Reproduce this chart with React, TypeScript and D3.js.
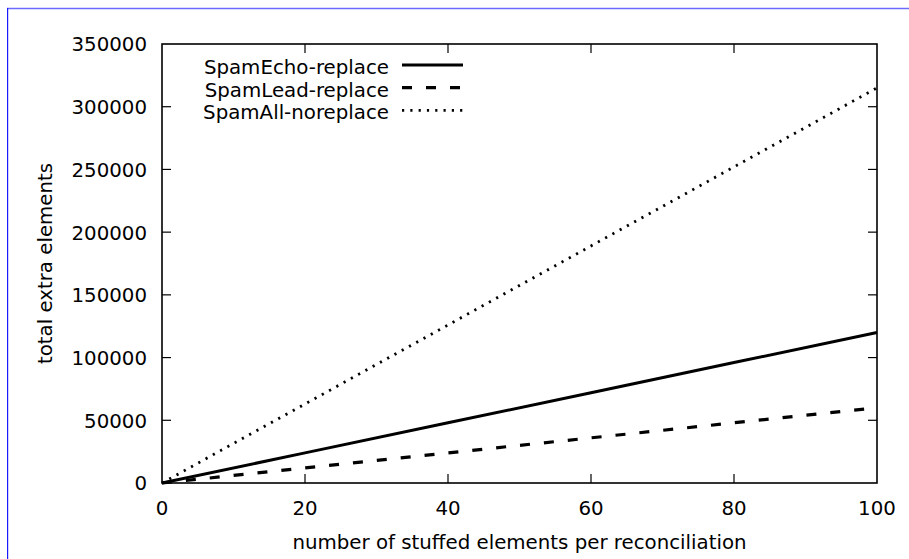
import React from "react";
import * as d3 from "d3";

// Number of stuffed elements per reconciliation
const stuffed = [0, 20, 40, 60, 80, 100];

// Total extra elements per strategy
const spamEchoReplace = [0, 24000, 48000, 72000, 96000, 120000];
const spamLeadReplace = [0, 12000, 24000, 36000, 48000, 60000];
const spamAllNoreplace = [0, 63000, 126000, 189000, 252000, 315000];

const seriesNames = ["SpamEcho-replace", "SpamLead-replace", "SpamAll-noreplace"];

const xTicks = [0, 20, 40, 60, 80, 100];
const yTicks = [0, 50000, 100000, 150000, 200000, 250000, 300000, 350000];

const xLabel = "number of stuffed elements per reconciliation";
const yLabel = "total extra elements";

const W = 909;
const H = 559;
const left = 162;
const right = 877;
const top = 44;
const bottom = 483;
const FONT = "'DejaVu Sans', sans-serif";
const FS = 19.8;
const TICK = 9;

const styles = [
  { width: 3, dash: undefined as string | undefined, cap: "butt" },
  { width: 3.2, dash: "10,14", cap: "butt" },
  { width: 2.8, dash: "2.2,6.1", cap: "butt" },
];

export default function App() {
  const x = d3.scaleLinear().domain([0, 100]).range([left, right]);
  const y = d3.scaleLinear().domain([0, 350000]).range([bottom, top]);

  const series = [spamEchoReplace, spamLeadReplace, spamAllNoreplace];
  const line = d3
    .line<[number, number]>()
    .x((d) => x(d[0]))
    .y((d) => y(d[1]));

  const legendRowY = [67, 89.7, 112.4];
  const legendTextX = 389;
  const legendLineX0 = 402;
  const legendLineX1 = 463;

  return (
    <svg
      width={W}
      height={H}
      style={{ position: "absolute", left: 0, top: 0, background: "#fff" }}
      fontFamily={FONT}
    >
      <rect x={0} y={0} width={W} height={H} fill="#fff" />
      {/* page frame */}
      <line x1={7} y1={8.5} x2={W} y2={8.5} stroke="#6b6bff" strokeWidth={1.5} />
      <rect x={7} y={8} width={1.2} height={H - 8} fill="#1a1aff" />

      {/* y ticks and labels */}
      {yTicks.map((t) => (
        <g key={"y" + t}>
          {t > 0 && t < 350000 && (
            <>
              <line x1={left} x2={left + TICK} y1={y(t)} y2={y(t)} stroke="#000" strokeWidth={1.2} />
              <line x1={right} x2={right - TICK} y1={y(t)} y2={y(t)} stroke="#000" strokeWidth={1.2} />
            </>
          )}
          <text x={147} y={y(t) + 7.4} fontSize={FS} textAnchor="end" fill="#000">
            {t}
          </text>
        </g>
      ))}

      {/* x ticks and labels */}
      {xTicks.map((t) => (
        <g key={"x" + t}>
          {t > 0 && t < 100 && (
            <>
              <line x1={x(t)} x2={x(t)} y1={bottom} y2={bottom - TICK} stroke="#000" strokeWidth={1.2} />
              <line x1={x(t)} x2={x(t)} y1={top} y2={top + TICK} stroke="#000" strokeWidth={1.2} />
            </>
          )}
          <text x={x(t)} y={515} fontSize={FS} textAnchor="middle" fill="#000">
            {t}
          </text>
        </g>
      ))}

      {/* axis titles */}
      <text x={(left + right) / 2} y={549} fontSize={FS} textAnchor="middle" fill="#000">
        {xLabel}
      </text>
      <text
        transform={`translate(52,${(top + bottom) / 2}) rotate(-90)`}
        fontSize={FS}
        textAnchor="middle"
        fill="#000"
      >
        {yLabel}
      </text>

      {/* series */}
      {series.map((vals, i) => {
        const pts = stuffed.map((s, j) => [s, vals[j]] as [number, number]);
        return (
          <path
            key={"s" + i}
            d={line(pts) || ""}
            fill="none"
            stroke="#000"
            strokeWidth={styles[i].width}
            strokeDasharray={styles[i].dash}
            strokeLinecap={styles[i].cap as any}
          />
        );
      })}

      {/* legend */}
      {seriesNames.map((name, i) => (
        <g key={"l" + i}>
          <text x={legendTextX} y={legendRowY[i] + 7} fontSize={FS} textAnchor="end" fill="#000">
            {name}
          </text>
          <line
            x1={legendLineX0}
            x2={legendLineX1}
            y1={legendRowY[i] - 2}
            y2={legendRowY[i] - 2}
            stroke="#000"
            strokeWidth={styles[i].width}
            strokeDasharray={styles[i].dash}
            strokeLinecap={styles[i].cap as any}
          />
        </g>
      ))}

      {/* plot border */}
      <rect
        x={left}
        y={top}
        width={right - left}
        height={bottom - top}
        fill="none"
        stroke="#000"
        strokeWidth={1.6}
      />
    </svg>
  );
}
